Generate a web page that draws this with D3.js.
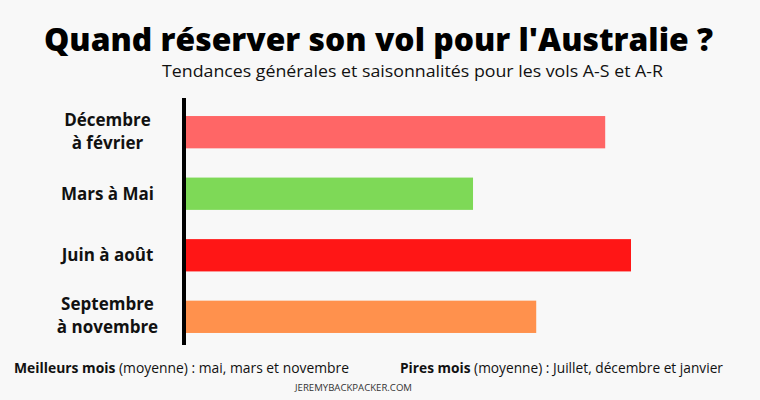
<!DOCTYPE html>
<html>
<head>
<meta charset="utf-8">
<script src="https://cdn.jsdelivr.net/npm/d3@7"></script>
<style>
  html, body { margin: 0; padding: 0; background: #f8f8f8; }
  svg { display: block; font-family: "Open Sans", sans-serif; }
</style>
</head>
<body>
<svg id="chart" width="760" height="400"></svg>
<script>
// Data
const categories = [["Décembre", "à février"], ["Mars à Mai"], ["Juin à août"], ["Septembre", "à novembre"]];
const categoryKeys = ["Décembre à février", "Mars à Mai", "Juin à août", "Septembre à novembre"];
const values = [94.2, 64.5, 100, 78.7]; // indice relatif des prix (max = 100)
const colors = ["#ff6666", "#7ed957", "#ff1616", "#ff914d"];
const title = "Quand réserver son vol pour l'Australie ?";
const subtitle = "Tendances générales et saisonnalités pour les vols A-S et A-R";
const noteBest = ["Meilleurs mois", " (moyenne) : mai, mars et novembre"];
const noteWorst = ["Pires mois", " (moyenne) : Juillet, décembre et janvier"];
const source = "JEREMYBACKPACKER.COM";

const svg = d3.select("#chart");
svg.append("rect").attr("width", 760).attr("height", 400).attr("fill", "#f8f8f8");

const x = d3.scaleLinear().domain([0, 100]).range([186, 631]);
const y = d3.scaleBand().domain(categoryKeys).range([86.8, 362.2]).padding(0.475);

// Title
svg.append("text").attr("x", 44).attr("y", 50.5)
  .attr("font-size", 31).attr("font-weight", 800).attr("fill", "#000")
  .attr("textLength", 669).attr("lengthAdjust", "spacingAndGlyphs")
  .text(title);
svg.append("text").attr("x", 162).attr("y", 77)
  .attr("font-size", 16).attr("fill", "#111")
  .attr("textLength", 501).attr("lengthAdjust", "spacingAndGlyphs")
  .text(subtitle);

// Bars
svg.append("g").selectAll("rect").data(values).join("rect")
  .attr("x", x(0))
  .attr("y", (d, i) => y(categoryKeys[i]))
  .attr("width", d => x(d) - x(0))
  .attr("height", y.bandwidth())
  .attr("fill", (d, i) => colors[i]);

// Axis line
const yAxis = svg.append("g").attr("transform", "translate(184,0)")
  .call(d3.axisLeft(y).tickSize(0).tickFormat(""));
yAxis.select(".domain").attr("d", "M0,98V345").attr("stroke", "#000").attr("stroke-width", 4);

// Category labels
const lab = svg.append("g").selectAll("text").data(categories).join("text")
  .attr("text-anchor", "middle")
  .attr("font-size", 17).attr("font-weight", 700).attr("fill", "#111")
  .attr("transform", (d, i) => `translate(107.5,${y(categoryKeys[i]) + y.bandwidth() / 2})`);
lab.each(function(d) {
  const t = d3.select(this);
  if (d.length === 1) {
    t.append("tspan").attr("x", 0).attr("y", 6).text(d[0]);
  } else {
    t.append("tspan").attr("x", 0).attr("y", -6.5).text(d[0]);
    t.append("tspan").attr("x", 0).attr("y", 16.5).text(d[1]);
  }
});

// Bottom notes
const n1 = svg.append("text").attr("x", 14).attr("y", 373.3).attr("font-size", 14).attr("fill", "#111")
  .attr("textLength", 335).attr("lengthAdjust", "spacingAndGlyphs");
n1.append("tspan").attr("font-weight", 700).text(noteBest[0]);
n1.append("tspan").text(noteBest[1]);
const n2 = svg.append("text").attr("x", 400).attr("y", 373.3).attr("font-size", 14).attr("fill", "#111")
  .attr("textLength", 323).attr("lengthAdjust", "spacingAndGlyphs");
n2.append("tspan").attr("font-weight", 700).text(noteWorst[0]);
n2.append("tspan").text(noteWorst[1]);

svg.append("text").attr("x", 295).attr("y", 391).attr("font-size", 9.5).attr("fill", "#333")
  .attr("textLength", 117).attr("lengthAdjust", "spacingAndGlyphs")
  .text(source);
</script>
</body>
</html>
